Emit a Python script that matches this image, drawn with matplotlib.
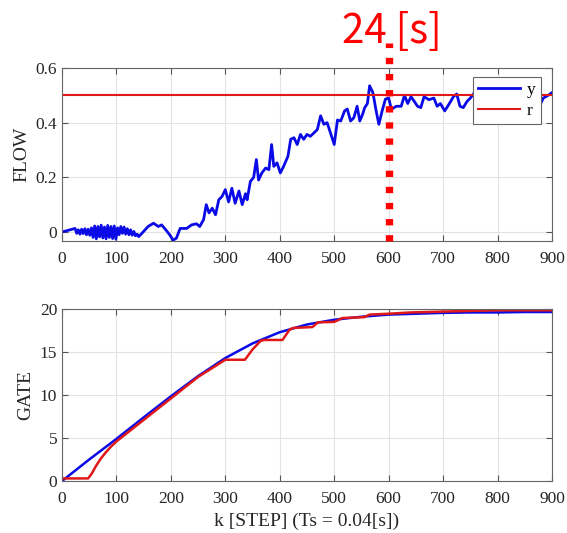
import matplotlib
matplotlib.use("Agg")
import matplotlib.pyplot as plt

# FLOW (top): measured y vs reference r
k_flow = [0, 24, 27, 30, 33, 36, 39, 42, 45, 48, 51, 54, 57, 60, 63, 66, 69, 72, 75, 78,
          81, 84, 87, 90, 93, 96, 99, 102, 105, 108, 111, 114, 117, 120, 123, 126, 129, 132,
          135, 138, 141, 149, 158, 168, 177, 183, 191, 198, 204, 210, 217, 229, 238, 247,
          253, 260, 265, 270, 276, 282, 288, 294, 300, 306, 312, 318, 325, 331, 337, 340,
          346, 352, 357, 361, 367, 374, 380, 385, 389, 395, 401, 407, 415, 420, 426, 432,
          438, 444, 450, 456, 463, 469, 475, 481, 487, 493, 500, 506, 512, 519, 524, 530,
          536, 542, 547, 552, 556, 561, 565, 571, 577, 582, 588, 594, 600, 605, 614, 623,
          629, 635, 641, 647, 653, 659, 665, 674, 683, 689, 695, 703, 710, 719, 725, 731,
          737, 744, 750, 756, 760, 766, 771, 785, 800, 815, 830, 845, 860, 872, 878, 884,
          893, 900]
flow_y = [0, 0.013, -0.005, 0.008, -0.008, 0.01, -0.006, 0.012, -0.01, 0.01, -0.012, 0.015,
          -0.02, 0.022, -0.025, 0.02, -0.018, 0.025, -0.022, 0.018, -0.025, 0.024, -0.02,
          0.02, -0.024, 0.022, -0.026, 0.015, -0.01, 0.02, -0.005, 0.018, -0.008, 0.012,
          -0.01, 0.008, -0.012, 0.002, -0.014, -0.008, -0.017, 0.0, 0.02, 0.032, 0.02, 0.026,
          0.007, -0.011, -0.03, -0.023, 0.013, 0.013, 0.026, 0.03, 0.02, 0.045, 0.1, 0.07,
          0.087, 0.063, 0.118, 0.13, 0.155, 0.11, 0.16, 0.105, 0.15, 0.10, 0.14, 0.118, 0.185,
          0.20, 0.265, 0.19, 0.216, 0.234, 0.228, 0.32, 0.24, 0.253, 0.216, 0.24, 0.277,
          0.339, 0.345, 0.32, 0.357, 0.339, 0.357, 0.35, 0.363, 0.375, 0.425, 0.394, 0.40,
          0.363, 0.32, 0.41, 0.406, 0.443, 0.45, 0.406, 0.418, 0.46, 0.406, 0.43, 0.455, 0.47,
          0.535, 0.51, 0.443, 0.394, 0.443, 0.486, 0.49, 0.449, 0.46, 0.46, 0.50, 0.47, 0.495,
          0.478, 0.46, 0.455, 0.495, 0.484, 0.49, 0.46, 0.47, 0.443, 0.465, 0.495, 0.505,
          0.46, 0.455, 0.478, 0.49, 0.505, 0.525, 0.497, 0.495, 0.48, 0.49, 0.47, 0.5, 0.48,
          0.49, 0.47, 0.465, 0.49, 0.5, 0.51]
flow_ref = 0.5

# GATE (bottom)
k_gate_b = [0, 50, 100, 150, 200, 250, 300, 350, 400, 450, 500, 550, 600, 650, 700, 750,
            800, 850, 900]
gate_b = [0, 2.5, 4.9, 7.4, 9.85, 12.2, 14.3, 16.0, 17.3, 18.2, 18.75, 19.1, 19.35, 19.45,
          19.55, 19.6, 19.6, 19.65, 19.65]
k_gate_r = [0, 48, 55, 62, 70, 80, 90, 100, 150, 200, 250, 300, 336, 350, 365, 372, 405,
            418, 425, 460, 470, 500, 515, 555, 565, 600, 640, 700, 760, 800, 900]
gate_r = [0.3, 0.3, 0.9, 1.7, 2.5, 3.3, 4.0, 4.6, 7.1, 9.6, 12.1, 14.1, 14.1, 15.3, 16.3,
          16.4, 16.4, 17.6, 17.8, 17.9, 18.45, 18.5, 18.95, 19.05, 19.35, 19.45, 19.6, 19.7,
          19.8, 19.85, 19.85]

xticks = [0, 100, 200, 300, 400, 500, 600, 700, 800, 900]
flow_ticks = [0, 0.2, 0.4, 0.6]
flow_ticklabels = ["0", "0.2", "0.4", "0.6"]
gate_ticks = [0, 5, 10, 15, 20]
mark_k = 600
mark_text = "24 [s]"

BLUE = "#0a0ae6"
RED = "#e01818"

plt.rcParams["font.family"] = ["Liberation Serif", "DejaVu Serif"]

W, H = 567, 533
fig = plt.figure(figsize=(W / 100, H / 100), dpi=100)
ax1 = fig.add_axes([62 / W, 1 - 241 / H, 490 / W, 173 / H])
ax2 = fig.add_axes([62 / W, 1 - 481 / H, 490 / W, 172 / H])


def style(ax):
    ax.grid(True, color="#e3e3e3", linewidth=0.8)
    ax.set_axisbelow(True)
    ax.tick_params(direction="in", top=True, right=True, length=4, width=0.8,
                   colors="#555555", labelcolor="#262626", labelsize=12.5)
    ax.tick_params(axis="x", pad=7)
    for s in ax.spines.values():
        s.set_color("#666666")
        s.set_linewidth(0.8)
    ax.set_xlim(0, 900)
    ax.set_xticks(xticks)


style(ax1)
ax1.plot(k_flow, flow_y, color=BLUE, lw=2.0, label="y")
ax1.axhline(flow_ref, color=RED, lw=1.5, label="r")
ax1.set_ylim(-0.033, 0.6)
ax1.set_yticks(flow_ticks)
ax1.set_yticklabels(flow_ticklabels)
ax1.set_ylabel("FLOW", fontsize=14, color="#262626")
leg = ax1.legend(loc="upper right", bbox_to_anchor=((541 - 62) / 490, (241 - 77) / 173),
                 borderaxespad=0, fancybox=False, framealpha=1, edgecolor="#666666",
                 fontsize=12.5, handlelength=2.4, handletextpad=0.4, borderpad=0.3,
                 labelspacing=0.25, alignment="right")
leg.get_frame().set_linewidth(0.8)
for t in leg.get_texts():
    t.set_ha("right")

# red dotted marker line at 24 s, extending above the axes
ax1.plot([mark_k, mark_k], [-0.033, 0.69], color="#ff0000", lw=5.3,
         linestyle=(0, (0.86, 1.33)), clip_on=False, zorder=5)
fig.text(342 / W, 1 - 43 / H, mark_text, color="#ff0000", fontsize=29,
         family=["Noto Sans CJK JP", "DejaVu Sans"], va="baseline", ha="left")

style(ax2)
ax2.plot(k_gate_b, gate_b, color=BLUE, lw=1.8)
ax2.plot(k_gate_r, gate_r, color=RED, lw=1.8)
ax2.set_ylim(0, 20)
ax2.set_yticks(gate_ticks)
ax2.set_ylabel("GATE", fontsize=14, color="#262626")
ax2.set_xlabel("k [STEP] (Ts = 0.04[s])", fontsize=14, color="#262626", labelpad=4)

fig.savefig("out.png", dpi=100)
